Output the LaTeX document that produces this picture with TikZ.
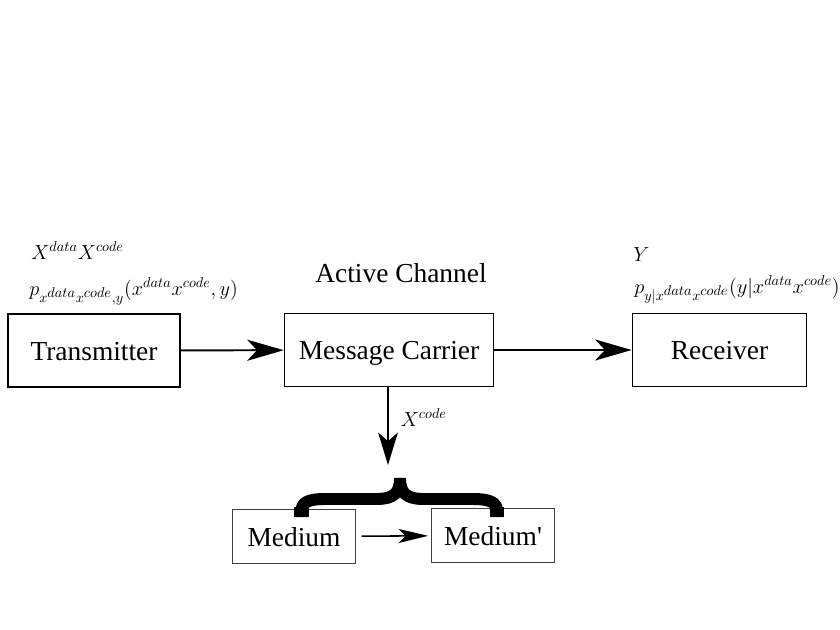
\RequirePackage{fix-cm}
\documentclass[tikz,border=0pt]{standalone}
\usepackage{fontspec}
\setmainfont{Liberation Serif}
\usetikzlibrary{arrows.meta}

\begin{document}
\begin{tikzpicture}[x=0.025cm, y=-0.025cm,
    box/.style={draw, inner sep=0pt, text height=17pt, text depth=3pt, font=\fontsize{19.5}{22}\selectfont},
    lbl/.style={inner sep=0pt, font=\fontsize{14.5}{18}\selectfont},
    bigarrow/.style={line width=1.4pt, -{Stealth[length=26pt, width=15pt, inset=7pt]}},
    smallarrow/.style={line width=1.1pt, -{Stealth[length=21pt, width=10pt, inset=5pt]}}]
            \useasboundingbox (0,0) rectangle (840,630);
            \node[box, line width=1.7pt, minimum width=4.3cm, minimum height=1.83cm] (tx) at (94,350.5) {Transmitter};
            \node[box, line width=0.9pt, minimum width=5.23cm, minimum height=1.83cm] (carrier) at (389,350) {Message Carrier};
            \node[box, line width=1.2pt, minimum width=4.35cm, minimum height=1.83cm] (rx) at (719.5,350) {Receiver};
            \node[box, draw=black!75, line width=0.7pt, minimum width=3.08cm, minimum height=1.36cm] (med) at (294,536.5) {Medium};
            \node[box, draw=black!75, line width=0.7pt, minimum width=3.08cm, minimum height=1.36cm] (medp) at (493,535.5) {Medium\textquotesingle};
            \node[lbl, anchor=base west] (xin) at (31,259) {$X^{data}X^{code}$};
            \node[lbl, anchor=base west] (pin) at (29,295) {$p_{x^{\scriptstyle data}x^{\scriptstyle code},y}(x^{data}x^{code},y)$};
            \node[box, draw=none, anchor=base] (chan) at (401,282) {Active Channel};
            \node[lbl, anchor=base west] (yout) at (633,261) {$Y$};
            \node[lbl, anchor=base west] (pout) at (634,293) {$p_{y|x^{\scriptstyle data}x^{\scriptstyle code}}(y|x^{data}x^{code})$};
            \coordinate (tip) at (388,465);
            \draw[bigarrow] (tx) -- (carrier);
            \draw[bigarrow] (carrier) -- (rx);
            \draw[line width=1.1pt, -{Stealth[length=23pt, width=14pt, inset=6pt]}] (carrier.south -| tip) -- node[lbl, anchor=base west, xshift=0.3cm] (xcode) {$X^{code}$} (tip);
            \draw[smallarrow, shorten <=4pt, shorten >=2pt] (med) -- (medp);
            % brace over both media
            \draw[line width=8.5pt] (400,478) .. controls (400,493) and (394,499) .. (376,499) -- (325,499) .. controls (307,499) and (301.5,503) .. (301.5,511) -- (301.5,517);
            \draw[line width=8.5pt] (400,478) .. controls (400,493) and (406,499) .. (424,499) -- (473,499) .. controls (491,499) and (497,503) .. (497,511) -- (497,517);
            \draw[line width=11pt] (301.5,507) -- (301.5,517);
            \draw[line width=10pt] (497,507) -- (497,517);
        \end{tikzpicture}
\end{document}
